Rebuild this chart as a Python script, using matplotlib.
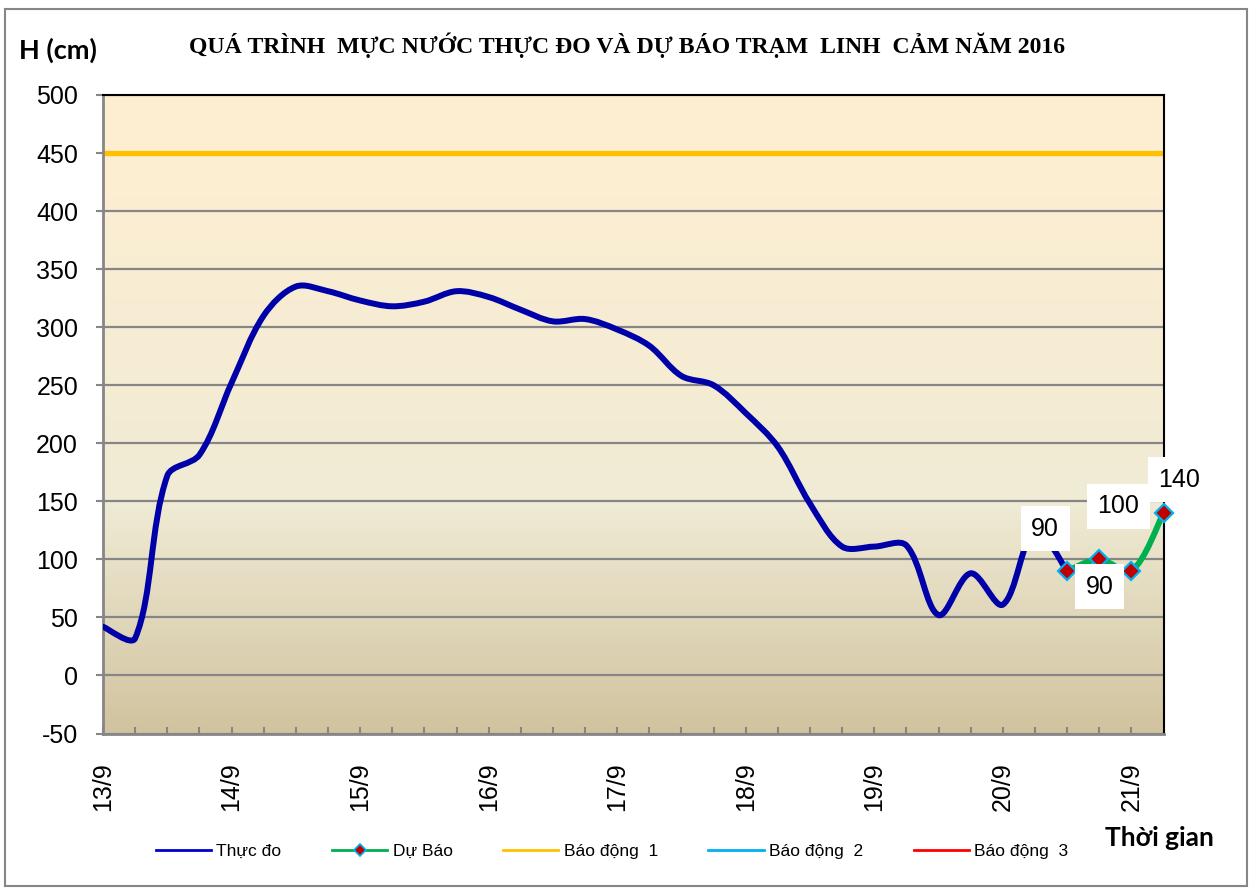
import matplotlib
matplotlib.use("Agg")
import matplotlib.pyplot as plt
import numpy as np
from matplotlib.path import Path
from matplotlib.patches import PathPatch, Rectangle
from matplotlib.lines import Line2D
from matplotlib.colors import LinearSegmentedColormap

# ---------------- data ----------------
date_labels = ["13/9", "14/9", "15/9", "16/9", "17/9", "18/9", "19/9", "20/9", "21/9"]
steps_per_day = 4          # one value every 6 hours
# observed water level (cm), every 6 h from 13/9 00h
observed = [42, 32, 172, 190, 252, 310, 335, 331, 323, 318, 322, 331, 326, 315,
            305, 307, 298, 284, 258, 250, 226, 197, 148, 111, 111, 112, 52, 88,
            61, 125, 90]
# forecast (cm) starting at 20/9 12h
forecast = [90, 100, 90, 140]
forecast_start = 30
alarm1 = 450
yticks = list(range(-50, 501, 50))

title = "QUÁ TRÌNH  MỰC NƯỚC THỰC ĐO VÀ DỰ BÁO TRẠM  LINH  CẢM NĂM 2016"
legend_labels = ["Thực đo", "Dự Báo", "Báo động  1", "Báo động  2", "Báo động  3"]

# ---------------- figure ----------------
W, H = 1253, 890
plt.rcParams['font.family'] = ['Liberation Sans', 'DejaVu Sans']
plt.rcParams['axes.unicode_minus'] = False
fig = plt.figure(figsize=(W / 100, H / 100), dpi=100)
fig.patch.set_facecolor('white')
ax = fig.add_axes([103 / W, 1 - 733.5 / H, (1163.5 - 103) / W, (733.5 - 95) / H])

n_steps = (len(date_labels) - 1) * steps_per_day + 1
ax.set_xlim(0, n_steps)
ax.set_ylim(-50, 500)

# parchment gradient background
cmap = LinearSegmentedColormap.from_list(
    "parch", [(0.0, "#D1C39F"), (0.36, "#F0EBD5"), (1.0, "#FFEFD1")])
grad = np.linspace(0, 1, 256).reshape(-1, 1)
ax.imshow(grad, extent=[0, 1, 0, 1], transform=ax.transAxes, aspect='auto',
          cmap=cmap, origin='lower', zorder=-2, interpolation='bicubic')
ax.set_xlim(0, n_steps)
ax.set_ylim(-50, 500)

# grid
ax.set_yticks(yticks)
ax.yaxis.grid(True, color='#868686', lw=1.6)
ax.set_axisbelow(True)

# spines
for s in ['left', 'bottom']:
    ax.spines[s].set_color('#868686')
    ax.spines[s].set_linewidth(2)
for s in ['top', 'right']:
    ax.spines[s].set_color('black')
    ax.spines[s].set_linewidth(1.5)

# ticks
major = list(range(0, n_steps, steps_per_day))
ax.set_xticks(major)
ax.set_xticklabels(date_labels, rotation=90, fontsize=18)
ax.set_xticks(list(range(0, n_steps)), minor=True)
ax.tick_params(axis='x', which='both', direction='in', length=5, width=1.5,
               color='#868686', pad=20.5)
ax.tick_params(axis='y', direction='out', length=5, width=1.5,
               color='#868686', pad=13, labelsize=18)


def smooth_path(xs, ys):
    """Excel-like smoothed line through the given data points."""
    pts = np.column_stack([xs, ys]).astype(float)
    disp = ax.transData.transform(pts)
    n = len(pts)
    cout = []
    cin = []
    for i in range(n):
        if i == 0:
            d = pts[1] - pts[0]
            cout.append(pts[0] + d / 3.0 * 0.5)
            cin.append(pts[0])
            continue
        if i == n - 1:
            d = pts[i] - pts[i - 1]
            cin.append(pts[i] - d / 3.0 * 0.5)
            cout.append(pts[i])
            continue
        d = pts[i + 1] - pts[i - 1]
        lin = np.hypot(*(disp[i] - disp[i - 1]))
        lout = np.hypot(*(disp[i + 1] - disp[i]))
        tot = lin + lout
        cout.append(pts[i] + d / 3.0 * lout / tot)
        cin.append(pts[i] - d / 3.0 * lin / tot)
    verts = [pts[0]]
    codes = [Path.MOVETO]
    for i in range(n - 1):
        verts += [cout[i], cin[i + 1], pts[i + 1]]
        codes += [Path.CURVE4] * 3
    return Path(verts, codes)


obs_x = list(range(len(observed)))
fc_x = list(range(forecast_start, forecast_start + len(forecast)))

ax.axhline(alarm1, color='#FFC000', lw=3.8, zorder=2)

ax.add_patch(PathPatch(smooth_path(obs_x, observed), fill=False, ec='#0000A8',
                       lw=4.3, capstyle='round', joinstyle='round', zorder=3))
ax.add_patch(PathPatch(smooth_path(fc_x, forecast), fill=False, ec='#00B050',
                       lw=4.3, capstyle='round', joinstyle='round', zorder=3))
ax.plot(fc_x, forecast, ls='none', marker='D', ms=9.5, mfc='#C00000',
        mec='#00B0F0', mew=1.6, zorder=4, clip_on=False)

# data labels
label_offsets = [(-22, 42), (19, 53), (-32, -16), (16, 33)]
for x, v, off in zip(fc_x, forecast, label_offsets):
    ax.annotate(f"{v}", (x, v), xytext=off, textcoords='offset pixels',
                ha='center', va='center', fontsize=18, annotation_clip=False,
                bbox=dict(boxstyle='square,pad=0.42', fc='white', ec='none'),
                zorder=5)

# titles
fig.text(627 / W, 1 - 45 / H, title, ha='center', va='center', fontsize=17.1,
         fontweight='bold', family=['Liberation Serif', 'DejaVu Serif'])
fig.text(57.5 / W, 1 - 50 / H, "H (cm)", ha='center', va='center', fontsize=19.5,
         fontweight='bold', family=['Lato', 'Open Sans', 'DejaVu Sans'])
fig.text(1159 / W, 1 - 838 / H, "Thời gian", ha='center', va='center', fontsize=19,
         fontweight='bold', family=['Lato', 'Open Sans', 'DejaVu Sans'])

# legend
handles = [
    Line2D([], [], color='#0000CC', lw=2),
    Line2D([], [], color='#00B050', lw=2, marker='D', ms=6, mfc='#C00000',
           mec='#00B0F0', mew=1.2),
    Line2D([], [], color='#FFC000', lw=2),
    Line2D([], [], color='#00B0F0', lw=2),
    Line2D([], [], color='#FF0000', lw=2),
]
fig.legend(handles, legend_labels, loc='center', bbox_to_anchor=(612 / W, 1 - 851 / H),
           ncol=5, frameon=False, fontsize=12.5, handlelength=3.2,
           handletextpad=0.3, columnspacing=2.9)

# outer chart border
fig.add_artist(Rectangle((5 / W, 1 - 886 / H), (1247 - 5) / W, (886 - 9) / H,
                         transform=fig.transFigure, fill=False, ec='#868686',
                         lw=1.5))

fig.savefig("out.png", dpi=100)
